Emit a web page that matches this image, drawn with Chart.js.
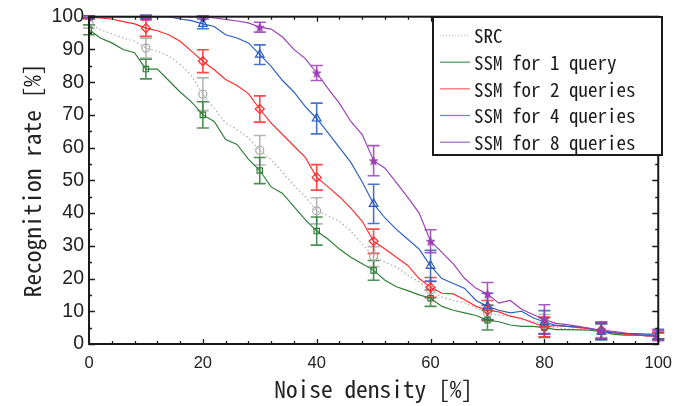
<!DOCTYPE html>
<html>
<head>
<meta charset="utf-8">
<script src="https://cdn.jsdelivr.net/npm/chart.js@4.4.1/dist/chart.umd.min.js"></script>
<style>
html,body{margin:0;padding:0;background:#fff;}
#wrap{width:682px;height:406px;position:relative;}
</style>
</head>
<body>
<div id="wrap"><canvas id="c" width="682" height="406"></canvas></div>
<script>
// ---- data ----
const noise = [0,2,4,6,8,10,12,14,16,18,20,22,24,26,28,30,32,34,36,38,40,42,44,46,48,50,52,54,56,58,60,62,64,66,68,70,72,74,76,78,80,82,84,86,88,90,92,94,96,98,100];
const markerNoise = [0,10,20,30,40,50,60,70,80,90,100];
const seriesLabels = ['SRC','SSM for 1 query','SSM for 2 queries','SSM for 4 queries','SSM for 8 queries'];

const srcRate  = [98,96,94.8,93.5,92.5,90.4,89.5,88,85.5,82,76.3,72,67.5,65.5,63,59.2,56.3,52.5,48.5,45,40.7,39.2,37.5,34.5,30.5,26.7,25,23.5,21,19,16.5,14.3,13.3,12.6,11,9.5,8.8,8.5,7.5,7,6,5,4.6,4.5,4.2,4,3.5,3,2.8,2.6,2.5];
const ssm1Rate = [96,93.5,92,90,89,84,84,80.5,77,74,70,68,62.5,61,56.5,53,48,46,42,38,34.5,32,29,26.5,24.5,22.5,19.5,17.5,16.3,15,14,11.5,10.3,9.5,8.7,7.3,6.8,5.8,5.4,5.4,5,4.4,4.4,4.3,4.2,3.8,3,2.7,2.7,2.7,2.5];
const ssm2Rate = [99.8,99.6,99.3,98.5,97.8,96.5,95.7,94.5,92.5,89.5,86.4,83.8,80.8,79,76.5,71.8,67.5,64,60.5,57,50.9,48,45,41.5,37.5,31.4,29,26.5,24,20,17.3,15.5,15.3,13.5,11.5,10.3,9.8,8.5,7.8,6.5,5.2,5.7,5.4,5,4.6,4.2,3.6,3,2.8,2.5,2.4];
const ssm4Rate = [100,100,100,100,100,100,100,100,99.3,98.8,97.8,97,94.5,93.5,92,88.4,84.8,80.5,77,72.5,68.9,64.5,60,55.5,49.5,42.8,38.5,35,32,29,23.9,20,18.5,17,13.3,11.5,10.3,9.5,10,8,6.7,5.7,5.4,5.2,4.8,3.8,3.4,3.2,3.2,3,3];
const ssm8Rate = [100,100,100,100,100,100,100,100,100,100,100,99.6,99.2,98.7,98.1,96.8,96.2,93.8,90,87.2,82.8,78,73.5,68,64,56,53.7,49.3,44.8,40,31.4,28,24.5,20,17,15.3,12.5,13.3,10.6,9,7.5,6.3,5.9,5.4,4.7,4.2,3.9,3.4,2.9,2.5,2.5];

const srcMarks  = [98,90.4,76.3,59.2,40.7,26.7,16.5,9.5,6,4,2.5];
const ssm1Marks = [96,84,70,53,34.5,22.5,14,7.3,5,3.8,2.5];
const ssm2Marks = [99.8,96.5,86.4,71.8,50.9,31.4,17.3,10.3,5.2,4.2,2.4];
const ssm4Marks = [100,100,97.8,88.4,68.9,42.8,23.9,11.5,6.7,3.8,3];
const ssm8Marks = [100,100,100,96.8,82.8,56,31.4,15.3,7.5,4.2,2.5];

const srcErr  = [1.5,3,5,4.5,4,3,2.5,2.5,3,2,1];
const ssm1Err = [1.5,3,4,4,4.3,3,2.5,3,3,2.5,1];
const ssm2Err = [0.5,2.5,3.5,4,3.9,3.7,3,3,3,2.5,1];
const ssm4Err = [0.3,0.5,1.5,3,4.7,6,4.7,4,3.5,2.5,1.5];
const ssm8Err = [0.3,0.3,0.3,1.5,2.3,4.6,3.5,3.5,4.5,2.5,1.5];

const xTicks = [0,20,40,60,80,100];
const yTicks = [0,10,20,30,40,50,60,70,80,90,100];

// ---- styles ----
const colors = ['#a8a8a8','#2e7d36','#ff2a2a','#2a5cc0','#9a3db4'];
const legendColors = ['#c8c8c8','#5a9a60','#ff7070','#6a8fd0','#a870c0'];

function pickMono(){
  const ctx = document.createElement('canvas').getContext('2d');
  ctx.font = '40px "Noto Sans Mono CJK JP", serif';
  const w = ctx.measureText('iiii').width;
  if (Math.abs(w - 80) < 3) return {fam:'"Noto Sans Mono CJK JP"', k:1};
  return {fam:'"Liberation Mono"', k:0.833};
}
const mono = pickMono();

function starImage(color){
  const c = document.createElement('canvas');
  c.width = 11; c.height = 11;
  const g = c.getContext('2d');
  g.beginPath();
  for (let i=0;i<10;i++){
    const r = i%2===0 ? 4.6 : 2.0;
    const a = -Math.PI/2 + i*Math.PI/5;
    const px = 5.5 + r*Math.cos(a), py = 6 + r*Math.sin(a);
    if(i===0) g.moveTo(px,py); else g.lineTo(px,py);
  }
  g.closePath();
  g.fillStyle = color; g.fill();
  g.strokeStyle = color; g.lineWidth = 0.7; g.stroke();
  return c;
}

const lineArrays = [srcRate, ssm1Rate, ssm2Rate, ssm4Rate, ssm8Rate];
const markArrays = [srcMarks, ssm1Marks, ssm2Marks, ssm4Marks, ssm8Marks];
const errArrays  = [srcErr, ssm1Err, ssm2Err, ssm4Err, ssm8Err];
const pointStyles = ['circle','rect','rectRot','triangle', starImage(colors[4])];
const pointRadii = [4,3.8,4.5,5,5];

const datasets = [];
lineArrays.forEach((arr, i) => {
  datasets.push({
    type:'line', label: seriesLabels[i], isLine:true, seriesIndex:i,
    data: noise.map((x,j)=>({x, y: arr[j]})),
    borderColor: colors[i], borderWidth: 1.15,
    borderDash: i===0 ? [1.5,2.5] : [],
    pointRadius: 0, tension: 0, order: 10 - i
  });
});
markArrays.forEach((arr, i) => {
  datasets.push({
    type:'line', label: seriesLabels[i] + ' markers', isLine:false, seriesIndex:i,
    errors: errArrays[i],
    data: markerNoise.map((x,j)=>({x, y: arr[j]})),
    showLine:false, borderColor: colors[i], backgroundColor: 'rgba(255,255,255,0)',
    pointStyle: pointStyles[i], pointRadius: pointRadii[i], pointBorderWidth: 1.2,
    pointBackgroundColor: 'rgba(255,255,255,0)', pointBorderColor: colors[i],
    order: 5 - i
  });
});

const errorBarPlugin = {
  id:'errbars',
  beforeDatasetsDraw(chart){
    const {ctx, scales:{x, y}} = chart;
    ctx.save();
    chart.data.datasets.forEach((ds) => {
      if (ds.isLine || !ds.errors) return;
      ctx.strokeStyle = ds.borderColor;
      ctx.globalAlpha = 0.85;
      ctx.lineWidth = 1.6;
      ds.data.forEach((p, j) => {
        const e = ds.errors[j];
        const px = x.getPixelForValue(p.x);
        const lo = y.getPixelForValue(Math.max(0, p.y - e));
        const hi = y.getPixelForValue(Math.min(100.5, p.y + e));
        ctx.beginPath();
        ctx.moveTo(px, lo); ctx.lineTo(px, hi);
        ctx.moveTo(px-6, lo); ctx.lineTo(px+6, lo);
        ctx.moveTo(px-6, hi); ctx.lineTo(px+6, hi);
        ctx.stroke();
      });
    });
    ctx.restore();
  }
};

const framePlugin = {
  id:'frame',
  afterDatasetsDraw(chart){
    const {ctx, chartArea:a, scales:{x, y}} = chart;
    ctx.save();
    ctx.strokeStyle = '#1a1a1a';
    ctx.lineWidth = 1.3;
    ctx.beginPath();
    const xMinor = [0,4,8,12,16,20,24,28,32,36,40,44,48,52,56,60,64,68,72,76,80,84,88,92,96,100];
    xMinor.forEach(v => {
      const px = Math.round(x.getPixelForValue(v)) + 0.5;
      const len = (v % 20 === 0) ? 5 : 3;
      ctx.moveTo(px, a.bottom); ctx.lineTo(px, a.bottom - len);
      ctx.moveTo(px, a.top); ctx.lineTo(px, a.top + len);
    });
    const yMinor = [0,5,10,15,20,25,30,35,40,45,50,55,60,65,70,75,80,85,90,95,100];
    yMinor.forEach(v => {
      const py = Math.round(y.getPixelForValue(v)) + 0.5;
      const len = (v % 10 === 0) ? 6 : 3;
      ctx.moveTo(a.left, py); ctx.lineTo(a.left + len, py);
      ctx.moveTo(a.right, py); ctx.lineTo(a.right - len, py);
    });
    ctx.stroke();
    ctx.lineWidth = 2;
    ctx.strokeRect(a.left, a.top, a.right - a.left, a.bottom - a.top);
    ctx.restore();
  },
  afterDraw(chart){
    const {ctx} = chart;
    ctx.save();
    const L = 433, T = 17, W = 229, H = 138;
    ctx.fillStyle = '#fff';
    ctx.fillRect(L, T, W, H);
    ctx.strokeStyle = '#1a1a1a';
    ctx.lineWidth = 2;
    ctx.strokeRect(L, T, W, H);
    const rows = [35, 61.7, 88.3, 115, 141.7];
    ctx.font = (19*mono.k) + 'px ' + mono.fam;
    ctx.textBaseline = 'middle';
    ctx.textAlign = 'left';
    chart.data.datasets.forEach(ds => {
      if (!ds.isLine) return;
      const i = ds.seriesIndex;
      ctx.strokeStyle = legendColors[i];
      ctx.lineWidth = 1.3;
      ctx.setLineDash(i === 0 ? [1,2] : []);
      ctx.beginPath();
      ctx.moveTo(440, rows[i] + 0.5); ctx.lineTo(470, rows[i] + 0.5);
      ctx.stroke();
      ctx.setLineDash([]);
      ctx.fillStyle = '#1a1a1a';
      ctx.fillText(ds.label, 474, rows[i] + 1);
    });
    ctx.restore();
  }
};

new Chart(document.getElementById('c'), {
  data: { datasets },
  options: {
    responsive:false, animation:false,
    layout:{ padding:{ left:0, right:15, top:13, bottom:0 } },
    plugins:{ legend:{display:false}, tooltip:{enabled:false} },
    scales:{
      x:{
        type:'linear', min:0, max:100,
        afterBuildTicks(s){ s.ticks = xTicks.map(v=>({value:v})); },
        afterFit(s){ s.height = 62; },
        grid:{ display:false, drawTicks:false },
        border:{ display:false },
        ticks:{ padding:10, color:'#222', font:{ family:'"Liberation Sans", Arial, sans-serif', size:16.5 }, maxRotation:0 },
        title:{ display:true, text:'Noise density [%]', color:'#222',
          font:{ family: mono.fam, size: 23.4*mono.k }, padding:{ top:0, bottom:3 } }
      },
      y:{
        type:'linear', min:0, max:100,
        afterBuildTicks(s){ s.ticks = yTicks.map(v=>({value:v})); },
        afterFit(s){ s.width = 89; },
        grid:{ display:false, drawTicks:false },
        border:{ display:false },
        ticks:{ padding:5, color:'#222', font:{ family:'"Liberation Sans", Arial, sans-serif', size:19.5 } },
        title:{ display:true, text:'Recognition rate [%]', color:'#222',
          font:{ family: mono.fam, size: 23.4*mono.k }, padding:{ top:18, bottom:0 } }
      }
    }
  },
  plugins:[errorBarPlugin, framePlugin]
});
</script>
</body>
</html>
